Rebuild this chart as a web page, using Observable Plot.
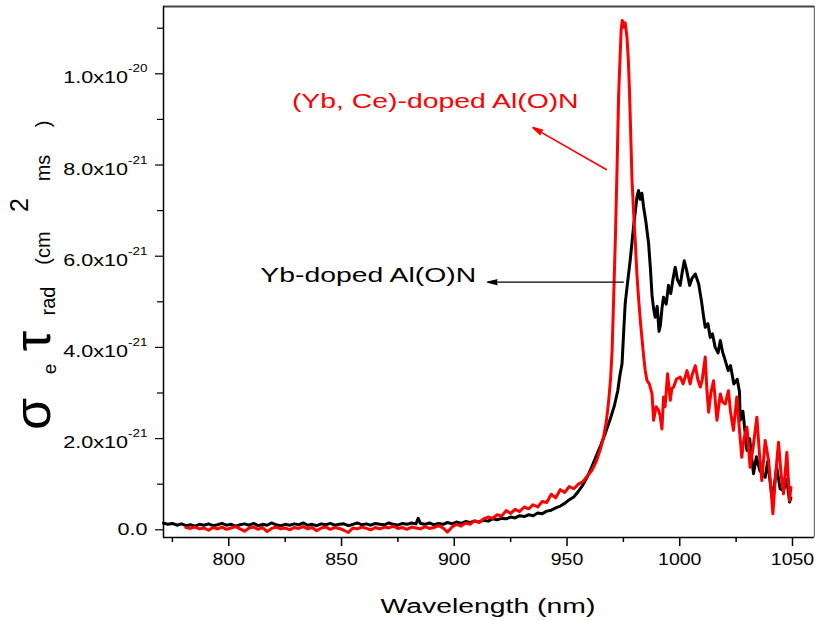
<!DOCTYPE html>
<html><head><meta charset="utf-8">
<script src="https://cdn.jsdelivr.net/npm/d3@7"></script>
<script src="https://cdn.jsdelivr.net/npm/@observablehq/plot@0.6"></script>
<style>html,body{margin:0;padding:0;background:#fff}svg{display:block}</style>
</head><body><div id="chart"></div>
<script>
// values in units of 1e-21 cm^2 ms
const ybWavelength = [771,773,775,777,779,781,783,785,787,789,791,793,795,797,799,801,803,805,807,809,811,813,815,817,819,821,823,825,827,829,831,833,835,837,839,841,843,845,847,849,851,853,855,857,859,861,863,865,867,869,871,873,875,877,879,881,883,884,885,887,889,891,893,895,897,899,901,903,905,907,909,911,913,915,917,919,921,923,925,927,929,931,933,935,937,939,941,943,945,947,949,951,953,955,957,959,961,963,965,967,969,971,972.5,973.5,974.4,975.2,975.8,976.8,978,979.5,981,981.7,982.4,983.2,984,985,986.2,987,987.7,988.4,989.1,990,990.8,991.4,992.1,992.8,994,995,996,997,998,999,1000.2,1001,1002,1003,1004.4,1005.5,1006.9,1008.4,1009.8,1010.5,1011.3,1012.5,1013.5,1014.5,1015.7,1017,1018,1019,1020.2,1021.5,1022.5,1024,1025.5,1026.5,1026.8,1028,1029.8,1031,1032.7,1034,1035.5,1037.9,1039,1040.9,1042,1043,1044.5,1046,1047.5,1048.7,1049.3];
const ybValue = [0.15,0.12,0.14,0.10,0.13,0.09,0.11,0.08,0.12,0.10,0.13,0.09,0.11,0.14,0.10,0.12,0.08,0.11,0.13,0.10,0.14,0.09,0.12,0.10,0.15,0.11,0.09,0.12,0.10,0.13,0.11,0.15,0.10,0.12,0.09,0.13,0.11,0.14,0.10,0.12,0.13,0.09,0.12,0.15,0.11,0.13,0.10,0.14,0.12,0.11,0.15,0.12,0.10,0.14,0.12,0.15,0.13,0.25,0.14,0.12,0.15,0.11,0.14,0.12,0.16,0.13,0.17,0.14,0.18,0.16,0.19,0.17,0.21,0.19,0.24,0.22,0.25,0.24,0.28,0.26,0.31,0.29,0.33,0.31,0.37,0.35,0.41,0.43,0.48,0.52,0.58,0.66,0.72,0.84,0.98,1.16,1.38,1.62,1.86,2.12,2.40,2.72,3.05,3.40,3.64,4.40,4.96,5.40,5.90,6.64,7.29,7.44,7.25,7.38,7.07,6.75,6.27,5.72,5.14,4.85,4.66,4.90,4.35,4.48,4.85,5.10,4.95,5.36,5.18,5.50,5.76,5.48,5.36,5.62,5.90,5.70,5.36,5.52,5.61,5.39,4.96,4.70,4.44,4.52,4.22,4.30,4.00,3.88,4.15,3.90,3.71,3.49,3.60,3.20,3.30,3.02,2.40,2.60,1.74,2.00,1.23,1.60,1.30,1.15,1.50,0.71,1.00,1.37,0.90,0.86,1.10,0.61,0.70];

const ybCeWavelength = [781,783,785,787,789,791,793,795,797,799,801,803,805,807,809,811,813,815,817,819,821,823,825,827,829,831,833,835,837,839,841,843,845,847,849,851,853,855,857,859,861,863,865,867,869,871,873,875,877,879,881,883,885,887,889,891,893,895,897,899,901,903,905,907,909,911,913,915,917,919,921,923,925,927,929,931,933,935,937,939,941,943,945,947,949,951,953,955,957,959,961,963,965,966.2,967.5,968.5,969.3,970,970.7,971.5,972.2,972.9,974,974.5,975.2,975.8,976.6,977.2,977.7,978.3,978.8,979.5,980.3,981,981.7,982.5,983.2,984,984.7,985.5,986.5,987.7,988.4,989.5,990.6,991.3,992.1,992.8,993.5,994.6,995.8,996.5,997.3,998.5,1000.2,1001.5,1003.2,1004.6,1005.5,1006.9,1008,1009.1,1010,1011.3,1012,1012.8,1013.8,1015,1016.5,1018,1019,1020.2,1021.6,1022.5,1023.8,1025.3,1026.3,1027.5,1028.5,1029.8,1031.2,1032.5,1034.2,1035.3,1036.4,1037.9,1039.4,1040.3,1041.3,1042.5,1043.8,1045,1046,1047.5,1048.7,1049.3];
const ybCeValue = [0.05,0.03,0.06,0.02,0.04,-0.01,0.05,0.02,0.06,0.01,0.04,0.07,0.02,-0.03,0.04,0.06,0.01,0.05,-0.04,0.03,0.06,0.02,0.04,0.00,0.05,0.03,0.07,0.02,0.05,-0.02,0.04,0.06,0.01,0.05,0.03,-0.01,-0.06,0.04,0.02,0.06,0.03,0.00,0.05,0.02,0.06,0.04,0.08,0.03,0.05,0.01,0.06,0.04,0.02,0.07,0.03,0.05,0.09,0.04,-0.05,0.06,0.12,0.08,0.15,0.12,0.20,0.16,0.24,0.28,0.25,0.33,0.30,0.42,0.36,0.45,0.40,0.50,0.46,0.55,0.50,0.62,0.60,0.78,0.70,0.88,0.82,0.95,0.90,1.00,1.05,1.18,1.30,1.50,1.80,2.03,2.40,2.84,3.30,3.93,5.10,6.50,7.95,9.56,10.95,11.17,11.02,11.12,10.80,10.30,9.63,8.60,7.70,7.00,6.30,5.60,5.10,4.60,4.22,3.80,3.49,3.27,3.20,2.98,2.40,2.70,2.62,2.50,2.21,2.91,2.70,3.42,2.84,3.10,3.13,3.30,3.35,3.20,3.49,3.20,3.40,3.60,3.30,3.13,3.30,3.79,3.10,2.58,3.00,3.27,2.40,2.98,2.80,2.76,3.05,2.60,2.18,2.91,2.30,1.59,2.00,2.25,1.37,1.80,2.47,1.70,1.08,1.96,1.52,1.00,0.35,1.20,1.92,1.20,0.79,1.70,0.64,0.93];

const xDomain = [771.04, 1059.76];
const yDomain = [-0.169, 11.476];
const xTicksMajor = [800, 850, 900, 950, 1000, 1050];
const xTicksMinor = [775, 825, 875, 925, 975, 1025];
const yTicksMajor = [0, 2, 4, 6, 8, 10];
const yTicksMinor = [1, 3, 5, 7, 9, 11];
const yTickLabels = ["0.0", "2.0x10^-21", "4.0x10^-21", "6.0x10^-21", "8.0x10^-21", "1.0x10^-20"];
const seriesNames = ["Yb-doped Al(O)N", "(Yb, Ce)-doped Al(O)N"];
const seriesColors = ["#000000", "#ff0000"];
// annotation anchors in data coordinates
const labelPos = [{x: 814, y: 5.58}, {x: 828, y: 9.39}];
const arrowPos = [{x1: 975, y1: 5.43, x2: 914.7, y2: 5.43}, {x1: 967.4, y1: 7.9, x2: 934.9, y2: 8.82}];
const xTitle = "Wavelength (nm)";

const STRETCH = 1.35;
const FONT = "'Liberation Sans', Arial, Helvetica, sans-serif";

const yb = ybWavelength.map((w, i) => ({w, v: ybValue[i]}));
const ybce = ybCeWavelength.map((w, i) => ({w, v: ybCeValue[i]}));
const labels = seriesNames.map((t, i) => ({...labelPos[i], t, c: seriesColors[i]}));
const arrows = arrowPos.map((a, i) => ({...a, c: seriesColors[i], sw: i ? 1.6 : 1.2}));

const svg = Plot.plot({
  width: 815, height: 620,
  marginLeft: 163, marginRight: 1, marginTop: 6, marginBottom: 83,
  style: {fontFamily: FONT, background: "#fff", color: "#000"},
  x: {domain: xDomain},
  y: {domain: yDomain},
  marks: [
    Plot.axisX({ticks: xTicksMinor, tickSize: 5, tickFormat: () => "", label: null, strokeWidth: 1.5}),
    Plot.axisX({ticks: xTicksMajor, tickSize: 9, tickPadding: 7, fontSize: 16, tickFormat: d => String(d), label: null, strokeWidth: 1.5}),
    Plot.axisY({ticks: yTicksMinor, tickSize: 6, tickFormat: () => "", label: null, strokeWidth: 1.2}),
    Plot.axisY({ticks: yTicksMajor, tickSize: 8, tickPadding: 8, fontSize: 16, tickFormat: d => yTickLabels[yTicksMajor.indexOf(d)], label: null, strokeWidth: 1.2}),
    Plot.ruleX([xDomain[1]], {stroke: "#777", strokeWidth: 1.5}),
    Plot.ruleY([yDomain[1]], {stroke: "#444", strokeWidth: 2}),
    Plot.ruleX([xDomain[0]], {stroke: "#000", strokeWidth: 1.5}),
    Plot.ruleY([yDomain[0]], {stroke: "#000", strokeWidth: 1.5}),
    Plot.line(yb, {x: "w", y: "v", stroke: seriesColors[0], strokeWidth: 3}),
    Plot.line(ybce, {x: "w", y: "v", stroke: seriesColors[1], strokeWidth: 3}),
    Plot.arrow(arrows, {x1: "x1", y1: "y1", x2: "x2", y2: "y2", stroke: "c", fill: "c", strokeWidth: "sw", headLength: 15, headAngle: 28, bend: 0}),
    Plot.text(labels, {x: "x", y: "y", text: "t", fill: "c", textAnchor: "start", fontSize: 21})
  ]
});
document.getElementById("chart").appendChild(svg);

// filled arrowheads
svg.querySelectorAll('g[aria-label="arrow"] path').forEach(p => {
  const s = p.getAttribute("stroke") || p.parentNode.getAttribute("stroke");
  if (s) p.setAttribute("fill", s);
});

// superscripts in y tick labels
svg.querySelectorAll('g[aria-label="y-axis tick label"] text').forEach(t => {
  const s = t.textContent;
  if (s.includes("^")) {
    const [base, sup] = s.split("^");
    t.textContent = "";
    const a = document.createElementNS("http://www.w3.org/2000/svg", "tspan");
    a.textContent = base; a.setAttribute("dy", "4.5");
    const b = document.createElementNS("http://www.w3.org/2000/svg", "tspan");
    b.textContent = sup; b.setAttribute("dy", "-11"); b.setAttribute("font-size", "10");
    t.appendChild(a); t.appendChild(b);
  }
});

const root = d3.select(svg);
// x axis title
root.append("text").attr("x", 488).attr("y", 613).attr("text-anchor", "middle")
  .attr("font-size", 21).attr("font-family", FONT).attr("fill", "#000").text(xTitle);

// horizontal stretch of texts (reference figure is horizontally stretched)
function stretchText(t, k) {
  const x = +t.getAttribute("x") || 0, y = +t.getAttribute("y") || 0;
  const tr = t.getAttribute("transform") || "";
  t.setAttribute("transform", `${tr} translate(${x},${y}) scale(${k},1) translate(${-x},${-y})`);
}
svg.querySelectorAll('g[aria-label="x-axis tick label"] text').forEach(t => stretchText(t, 1.22));
svg.querySelectorAll("text").forEach(t => {
  if (!t.closest('g[aria-label="x-axis tick label"]')) stretchText(t, STRETCH);
});

// y axis title, rotated
const yTitleParts = [
  {t: "\u03c3", x: 50, y: 414, s: 52},
  {t: "e", x: 56, y: 369, s: 19},
  {t: "\u03c4", x: 50, y: 341, s: 52},
  {t: "rad", x: 55, y: 301, s: 20},
  {t: "(cm", x: 50, y: 248, s: 20},
  {t: "2", x: 28, y: 205, s: 25},
  {t: "ms", x: 50, y: 168, s: 20},
  {t: ")", x: 50, y: 124, s: 20}
];
const gt = root.append("g").attr("font-family", FONT).attr("fill", "#000");
yTitleParts.forEach(p => {
  gt.append("text").attr("transform", `translate(${p.x},${p.y}) rotate(-90)`)
    .attr("font-size", p.s).text(p.t);
});
</script></body></html>
